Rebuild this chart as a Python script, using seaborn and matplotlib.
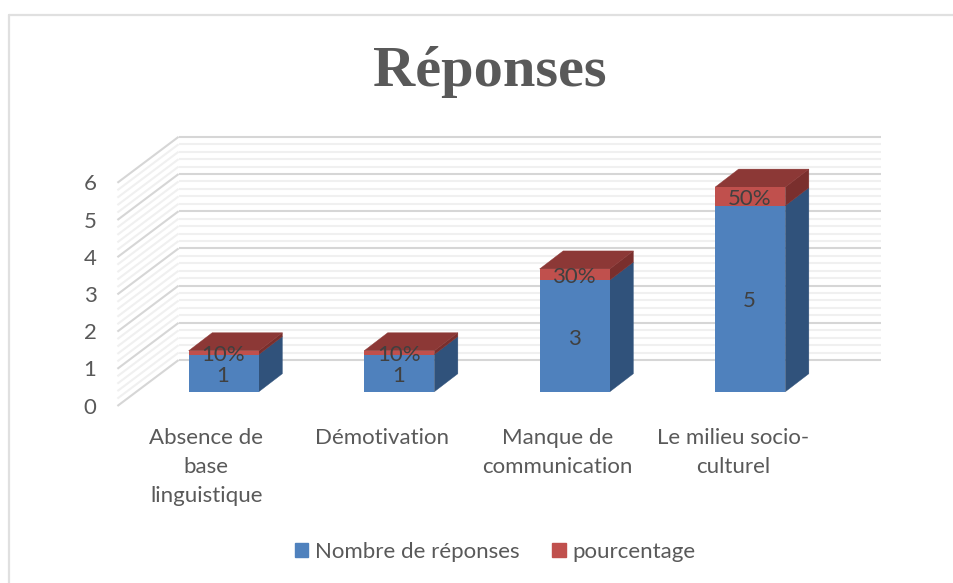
import numpy as np
import pandas as pd
import matplotlib
matplotlib.use("Agg")
import matplotlib.pyplot as plt
from matplotlib.lines import Line2D
from matplotlib.patches import Polygon, Patch
from matplotlib.transforms import Affine2D
import seaborn as sns

categories = ["Absence de\nbase\nlinguistique", "Démotivation", "Manque de\ncommunication", "Le milieu socio-\nculturel"]
nombre = [1, 1, 3, 5]
pourcentage = [0.10, 0.10, 0.30, 0.50]
pct_labels = ["10%", "10%", "30%", "50%"]
y_ticks = [0, 1, 2, 3, 4, 5, 6]
series_names = ["Nombre de réponses", "pourcentage"]
title_text = "Réponses"

W, H = 954, 583
BLUE, RED = "#4F81BD", "#C0504D"
BLUE_SIDE, RED_SIDE, RED_TOP = "#30527B", "#7A2F2D", "#8C3836"
TXT = "#595959"
BODY = "Lato"
FS = 16

sns.set_theme(style="white")
plt.rcParams["font.family"] = [BODY, "DejaVu Sans"]

df = pd.DataFrame({"cat": categories, "n": nombre, "p": pourcentage})

fig = plt.figure(figsize=(W / 100, H / 100), dpi=100)
L, R, T, B = 136.0, 838.0, 168.5, 391.7
ax = fig.add_axes([L / W, 1 - B / H, (R - L) / W, (B - T) / H])
ax.patch.set_alpha(0)

def shifted(dx, dy):
    return ax.transData + Affine2D().translate(dx, dy)

# stacked bars (front faces)
sns.barplot(data=df, x="cat", y="n", color=BLUE, width=0.4, saturation=1, ax=ax,
            label=series_names[0], zorder=5, legend=False, linewidth=0, edgecolor="none")
sns.barplot(data=df, x="cat", y="p", bottom=df["n"].to_numpy(), color=RED, width=0.4,
            saturation=1, ax=ax, label=series_names[1], zorder=5, legend=False,
            linewidth=0, edgecolor="none")
ax.set_ylim(0, 6)
ax.set_xlim(-0.5, 3.5)
ax.set_xlabel("")
ax.set_ylabel("")
sns.despine(ax=ax, left=True, bottom=True, top=True, right=True)

# 3D walls: gridlines from the y scale, major and minor
BACK = (42.6, 31.7)
FRONT = (-18.6, -14.3)
for v in np.arange(0, 6.01, 0.2):
    major = abs(v - round(v)) < 1e-6
    c, lw = ("#D6D6D6", 1.5) if major else ("#F0F0F0", 1.5)
    z = 1 if major else 0.5
    ax.add_line(Line2D([-0.5, 3.5], [v, v], color=c, lw=lw, clip_on=False, zorder=z,
                       transform=shifted(*BACK), solid_capstyle="butt"))
    p0 = ax.transData.transform((-0.5, v))
    ax.add_line(Line2D([p0[0] + BACK[0], p0[0] + FRONT[0]], [p0[1] + BACK[1], p0[1] + FRONT[1]],
                       color=c, lw=lw, clip_on=False, zorder=z, transform=None,
                       solid_capstyle="butt"))

# 3D side and top faces derived from the bars
DX, DY = 23.5, 18.0
n = len(categories)
blue_bars = ax.patches[:n]
red_bars = ax.patches[n:2 * n]
def face(pts, color):
    ax.add_patch(Polygon(pts, closed=True, facecolor=color, edgecolor=color, lw=0.3,
                         transform=None, clip_on=False, zorder=4))
for b, r in zip(blue_bars, red_bars):
    x1 = b.get_x() + b.get_width()
    x0 = b.get_x()
    a = ax.transData.transform((x1, 0))
    c = ax.transData.transform((x1, b.get_height()))
    d = ax.transData.transform((x1, b.get_height() + r.get_height()))
    e = ax.transData.transform((x0, b.get_height() + r.get_height()))
    face([a, c, c + (DX, DY), a + (DX, DY)], BLUE_SIDE)
    face([c, d, d + (DX, DY), c + (DX, DY)], RED_SIDE)
    face([e, d, d + (DX, DY), e + (DX, DY)], RED_TOP)

# data labels
for cont, labs in zip(ax.containers, [[str(v) for v in nombre], pct_labels]):
    ax.bar_label(cont, labels=labs, label_type="center", color="#404040", fontsize=FS, zorder=8)
for t in ax.texts:
    t.set_zorder(8)
    t.xyann = (-0.5, -2)

# axis ticks, moved onto the front edge of the 3D floor and wall
ax.set_yticks(y_ticks)
ax.set_yticklabels([str(v) for v in y_ticks])
ax.set_xticks(range(n))
ax.set_xticklabels(categories, linespacing=1.58)
ax.tick_params(axis="both", length=0, labelsize=FS, labelcolor=TXT)
ax.tick_params(axis="y", pad=0)
ax.tick_params(axis="x", pad=26)
for lab in ax.get_xticklabels():
    lab.set_transform(lab.get_transform() + Affine2D().translate(-17.5, 0))
for lab in ax.get_yticklabels():
    lab.set_transform(lab.get_transform() + Affine2D().translate(-39.5, -14))

# chart frame (only the left and top edges are visible)
for xs, ys in ([(9.5, 9.5), (15, H)], [(9.5, W), (15, 15)]):
    fig.add_artist(Line2D([x / W for x in xs], [1 - y / H for y in ys], color="#E0E0E0", lw=1.6))

fig.text(490 / W, 1 - 72 / H, title_text, ha="center", va="center", fontsize=42,
         fontweight="bold", color=TXT, family=["Liberation Serif", "DejaVu Serif"])

handles = [Patch(color=BLUE, label=series_names[0]), Patch(color=RED, label=series_names[1])]
fig.legend(handles=handles, loc="center", bbox_to_anchor=(495 / W, 1 - 552 / H), ncol=2,
           frameon=False, fontsize=FS, labelcolor=TXT, handlelength=0.62, handleheight=0.62,
           handletextpad=0.3, columnspacing=1.45)

fig.savefig("out.png", dpi=100)
